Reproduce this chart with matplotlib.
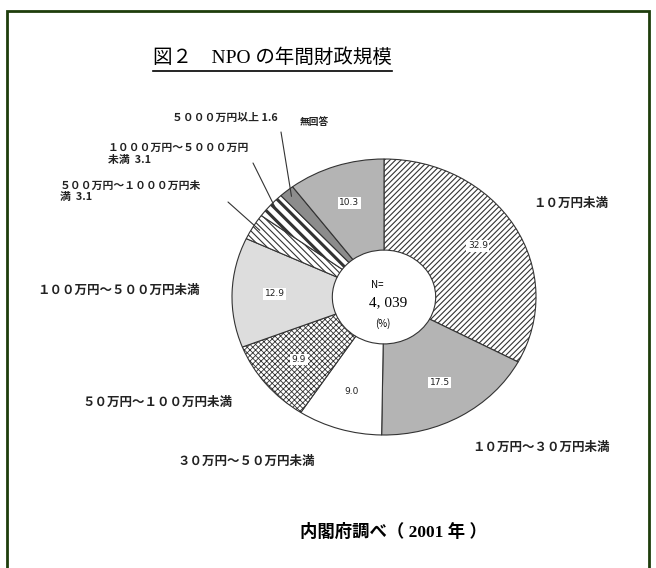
import numpy as np
import matplotlib
matplotlib.use('Agg')
import matplotlib.pyplot as plt
from matplotlib.patches import Rectangle
from matplotlib.lines import Line2D

plt.rcParams['font.family'] = ['Noto Sans CJK JP', 'DejaVu Sans']
plt.rcParams['hatch.linewidth'] = 0.8

# data: annual budget size of NPOs (%), N=4,039
categories = ['１０万円未満', '１０万円～３０万円未満', '３０万円～５０万円未満',
              '５０万円～１００万円未満', '１００万円～５００万円未満',
              '５００万円～１０００万円未満', '１０００万円～５０００万円未満',
              '５０００万円以上', '無回答']
shares = [32.9, 17.5, 9.0, 9.9, 12.9, 3.1, 3.1, 1.6, 10.3]
n_total = '4, 039'

title = '図２　NPO の年間財政規模'
source = '内閣府調べ（ 2001 年 ）'

# styling per slice
face_colors = ['white', '#b4b4b4', 'white', 'white', '#dddddd',
               'white', 'white', '#8c8c8c', '#b4b4b4']
hatches = ['//////', '', '', 'xxxxxx', '', '\\\\\\\\\\', '\\\\\\', '', '']
hatch_lw = [0.8, 0.8, 0.8, 0.6, 0.8, 0.8, 2.2, 0.8, 0.8]

W, H = 656, 568
cx, cy, rx, ry = 384, 297, 152, 138   # pie centre / radii in pixels

fig = plt.figure(figsize=(W / 100, H / 100), dpi=100)

# pie axes stretched so the unit circle becomes the slightly flat ellipse
ax = fig.add_axes([(cx - rx) / W, (H - cy - ry) / H, 2 * rx / W, 2 * ry / H])
wedges, _ = ax.pie(shares, startangle=90, counterclock=False, radius=1,
                   colors=face_colors,
                   wedgeprops=dict(width=0.66, edgecolor='#333333', linewidth=0.8))
for w, h, hl in zip(wedges, hatches, hatch_lw):
    if h:
        w.set_hatch(h)
        if hasattr(w, 'set_hatch_linewidth'):
            w.set_hatch_linewidth(hl)
ax.set_aspect('auto')
ax.set_xlim(-1, 1)
ax.set_ylim(-1, 1)
ax.axis('off')


def mid_point(w, r):
    a = np.deg2rad((w.theta1 + w.theta2) / 2)
    return r * np.cos(a), r * np.sin(a)


# values inside the bigger slices
for w, v in zip(wedges, shares):
    if v < 5:
        continue
    x, y = mid_point(w, 0.72)
    ax.text(x, y, f'{v:.1f}', ha='center', va='center', fontsize=6.5,
            family='DejaVu Sans', color='#222222',
            bbox=dict(boxstyle='square,pad=0.15', fc='white', ec='none'))

# outside labels (pixel positions of left edge / vertical centre)
outside = {0: (533, 203), 1: (472, 447), 2: (178, 461),
           3: (82, 402), 4: (37, 290)}
for i, (px, py) in outside.items():
    fig.text(px / W, 1 - py / H, categories[i], ha='left', va='center',
             fontsize=9, color='#222222', fontweight='bold')

# small slices with leader lines
small = {5: ('５００万円～１０００万円未\n満  ' + f'{shares[5]}', (60, 191), (228, 202)),
         6: ('１０００万円～５０００万円\n未満  ' + f'{shares[6]}', (108, 154), (253, 163)),
         7: ('５０００万円以上 ' + f'{shares[7]}', (172, 118), (281, 132))}
for i, (txt, (px, py), (lx, ly)) in small.items():
    fig.text(px / W, 1 - py / H, txt, ha='left', va='center',
             fontsize=7.8, color='#222222', linespacing=1.15, fontweight='bold')
    x, y = mid_point(wedges[i], 0.95)
    ax.annotate('', xy=(x, y), xycoords='data', xytext=(lx, H - ly),
                textcoords='figure pixels', annotation_clip=False,
                arrowprops=dict(arrowstyle='-', lw=0.8, color='#333333',
                                shrinkA=0, shrinkB=0))
fig.text(300 / W, 1 - 122 / H, categories[8], ha='left', va='center',
         fontsize=7, color='#222222', fontweight='bold')

# centre text
fig.text(377 / W, 1 - 285 / H, 'N=', ha='center', va='center', fontsize=7)
fig.text(388 / W, 1 - 303 / H, n_total, ha='center', va='center', fontsize=11,
         family=['Liberation Serif', 'Noto Sans CJK JP'])
fig.text(383 / W, 1 - 324 / H, '(%)', ha='center', va='center', fontsize=7)

# title with underline
fig.text(272 / W, 1 - 58 / H, title, ha='center', va='center', fontsize=14,
         family=['Liberation Serif', 'Noto Sans CJK JP'])
fig.add_artist(Line2D([153 / W, 392 / W], [1 - 71 / H, 1 - 71 / H],
                      color='black', lw=1.2))

fig.text(300 / W, 1 - 532 / H, source, ha='left', va='center', fontsize=12.5,
         family=['Liberation Serif', 'Noto Sans CJK JP'], fontweight='bold')

# dark green frame
fig.add_artist(Rectangle((7 / W, -0.05), 642 / W, 1.05 - 11 / H,
                         transform=fig.transFigure, fill=False,
                         ec='#1e3d0c', lw=2))

fig.savefig('out.png', dpi=100)
